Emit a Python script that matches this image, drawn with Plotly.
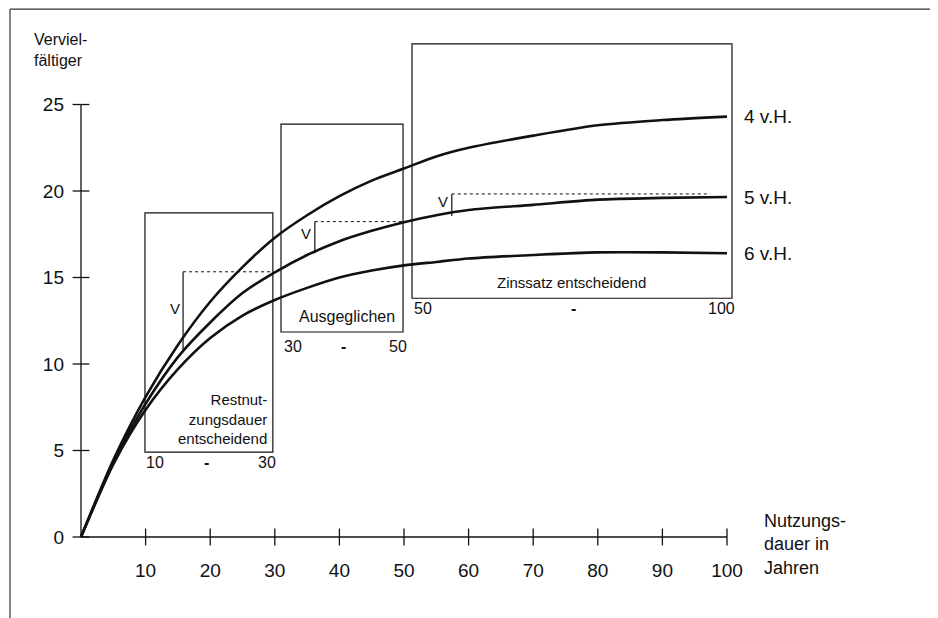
import plotly.graph_objects as go

# ---- data ----
years = [0, 5, 10, 15, 20, 25, 30, 35, 40, 45, 50, 55, 60, 70, 80, 90, 100]
v4 = [0, 4.45, 8.1, 11.1, 13.6, 15.6, 17.3, 18.6, 19.7, 20.6, 21.3, 22.0, 22.5, 23.2, 23.8, 24.1, 24.3]
v5 = [0, 4.3, 7.7, 10.4, 12.4, 14.1, 15.3, 16.3, 17.1, 17.7, 18.2, 18.6, 18.9, 19.2, 19.5, 19.6, 19.65]
v6 = [0, 4.2, 7.35, 9.7, 11.5, 12.8, 13.7, 14.4, 15.0, 15.4, 15.7, 15.9, 16.1, 16.3, 16.45, 16.45, 16.4]
series_labels = ["4 v.H.", "5 v.H.", "6 v.H."]

x_ticks = [10, 20, 30, 40, 50, 60, 70, 80, 90, 100]
y_ticks = [0, 5, 10, 15, 20, 25]

# phases: (from, to) in years, box bottom/top in multiplier units
phase_ranges = [(10, 30), (30, 50), (50, 100)]
phase_box_x = [(9.9, 29.7), (30.96, 49.85), (51.24, 100.77)]
phase_box_y = [(4.91, 18.73), (11.85, 23.87), (13.8, 28.5)]
phase_texts = ["Restnut-<br>zungsdauer<br>entscheidend", "Ausgeglichen", "Zinssatz entscheidend"]
# V-markers: year, lower value, upper value, dashed end
v_marks = [(15.8, 10.7, 15.33, 29.7), (36.2, 16.4, 18.23, 49.85), (57.4, 18.55, 19.83, 97.4)]

FONT = "Liberation Sans, Arial, sans-serif"
BLACK = "#111111"

fig = go.Figure()

# axis lines
fig.add_trace(go.Scatter(x=[0, 100], y=[0, 0], mode="lines",
                         line=dict(color=BLACK, width=1.3), hoverinfo="skip", showlegend=False))
fig.add_trace(go.Scatter(x=[0, 0], y=[0, 25], mode="lines",
                         line=dict(color=BLACK, width=1.3), hoverinfo="skip", showlegend=False))
# crossing tick marks
fig.add_trace(go.Scatter(x=x_ticks, y=[0] * len(x_ticks), mode="markers", cliponaxis=False,
                         marker=dict(symbol="line-ns", size=12, line=dict(color=BLACK, width=1.3)),
                         hoverinfo="skip", showlegend=False))
fig.add_trace(go.Scatter(x=[0] * len(y_ticks), y=y_ticks, mode="markers", cliponaxis=False,
                         marker=dict(symbol="line-ew", size=12, line=dict(color=BLACK, width=1.3)),
                         hoverinfo="skip", showlegend=False))

# curves
for vals, name in zip([v4, v5, v6], series_labels):
    fig.add_trace(go.Scatter(x=years, y=vals, mode="lines", name=name,
                             line=dict(color=BLACK, width=2.6, shape="spline", smoothing=0.8),
                             showlegend=False))
    fig.add_annotation(x=102.3, y=vals[-1], text=name, showarrow=False, xanchor="left",
                       yanchor="middle", font=dict(size=19, color=BLACK, family=FONT))

shapes = []
# phase boxes
for (bx0, bx1), (by0, by1) in zip(phase_box_x, phase_box_y):
    shapes.append(dict(type="rect", xref="x", yref="y", x0=bx0, x1=bx1, y0=by0, y1=by1,
                       line=dict(color=BLACK, width=1.2)))
# V markers
for vx, lo, hi, xend in v_marks:
    shapes.append(dict(type="line", xref="x", yref="y", x0=vx, x1=vx, y0=lo, y1=hi,
                       line=dict(color=BLACK, width=1.2)))
    shapes.append(dict(type="line", xref="x", yref="y", x0=vx, x1=xend, y0=hi, y1=hi,
                       line=dict(color=BLACK, width=1, dash="dot")))
    fig.add_annotation(x=vx - 1.3, y=(lo + hi) / 2 + 0.2, text="V", showarrow=False,
                       xanchor="center", yanchor="middle",
                       font=dict(size=15, color=BLACK, family=FONT))

# outer frame (left and top)
shapes.append(dict(type="line", xref="paper", yref="paper", x0=-0.0749, x1=-0.0749,
                   y0=1.013, y1=-0.2, line=dict(color="#333333", width=1.2)))
shapes.append(dict(type="line", xref="paper", yref="paper", x0=-0.0749, x1=1.1,
                   y0=1.013, y1=1.013, line=dict(color="#333333", width=1.2)))

# phase texts
fig.add_annotation(x=29.1, y=6.82, text=phase_texts[0], showarrow=False, xanchor="right",
                   yanchor="middle", align="right", font=dict(size=15, color=BLACK, family=FONT))
fig.add_annotation(x=41.18, y=12.72, text=phase_texts[1], showarrow=False, xanchor="center",
                   yanchor="middle", font=dict(size=16, color=BLACK, family=FONT))
fig.add_annotation(x=76.0, y=14.74, text=phase_texts[2], showarrow=False, xanchor="center",
                   yanchor="middle", font=dict(size=15, color=BLACK, family=FONT))

# phase range labels
range_label_y = [4.28, 11.04, 13.18]
range_label_x = [(11.46, 19.5, 28.8), (32.8, 40.56, 49.07), (52.9, 76.2, 99.2)]
for (a, b), ly, (xa, xm, xb) in zip(phase_ranges, range_label_y, range_label_x):
    for xx, tt in [(xa, str(a)), (xm, "<b>-</b>"), (xb, str(b))]:
        fig.add_annotation(x=xx, y=ly, text=tt, showarrow=False, xanchor="center",
                           yanchor="middle", font=dict(size=16, color=BLACK, family=FONT))

# axis titles
fig.add_annotation(xref="paper", yref="paper", x=-0.0483, y=0.937,
                   text="Verviel-<br>fältiger", showarrow=False, xanchor="left",
                   yanchor="middle", align="left", font=dict(size=16, color=BLACK, family=FONT))
fig.add_annotation(x=105.4, y=-0.46, text="Nutzungs-<br>dauer in<br>Jahren", showarrow=False,
                   xanchor="left", yanchor="middle", align="left",
                   font=dict(size=18, color=BLACK, family=FONT))

fig.update_layout(
    width=938, height=618,
    margin=dict(l=64, r=46, t=8, b=78),
    paper_bgcolor="white", plot_bgcolor="white",
    shapes=shapes,
    showlegend=False,
    font=dict(family=FONT, color=BLACK),
    xaxis=dict(range=[-1.393, 126.78], showgrid=False, zeroline=False, showline=False,
               tickmode="array", tickvals=x_ticks, ticks="", anchor="free", position=0.0207,
               ticklabelstandoff=20, tickfont=dict(size=19, color=BLACK, family=FONT)),
    yaxis=dict(range=[-0.636, 30.116], showgrid=False, zeroline=False, showline=False,
               tickmode="array", tickvals=y_ticks, ticks="", anchor="free", position=0.01087,
               ticklabelstandoff=17, tickfont=dict(size=19, color=BLACK, family=FONT)),
)

fig.write_html("out.html")
